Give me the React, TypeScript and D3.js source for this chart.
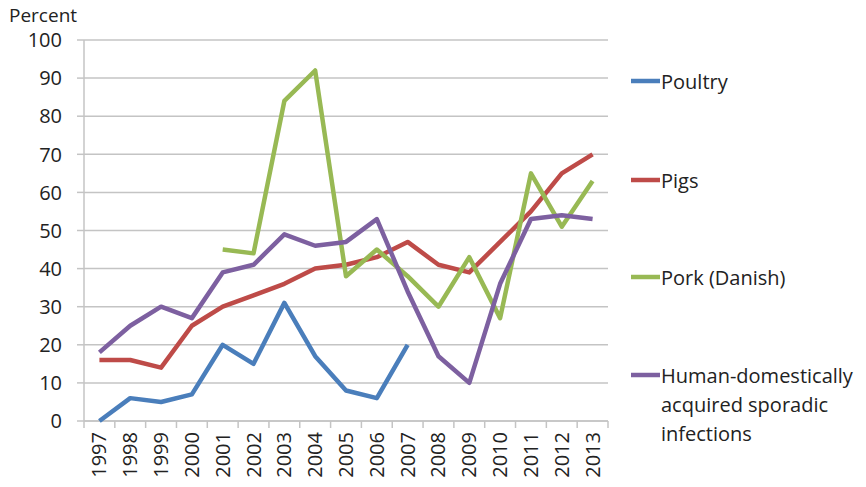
import React from "react";
import * as d3 from "d3";

const years = ["1997","1998","1999","2000","2001","2002","2003","2004","2005","2006","2007","2008","2009","2010","2011","2012","2013"];
const poultry: (number | null)[] = [0, 6, 5, 7, 20, 15, 31, 17, 8, 6, 20, null, null, null, null, null, null];
const pigs: (number | null)[] = [16, 16, 14, 25, 30, 33, 36, 40, 41, 43, 47, 41, 39, 47, 55, 65, 70];
const pork: (number | null)[] = [null, null, null, null, 45, 44, 84, 92, 38, 45, 38, 30, 43, 27, 65, 51, 63];
const human: (number | null)[] = [18, 25, 30, 27, 39, 41, 49, 46, 47, 53, 34, 17, 10, 36, 53, 54, 53];
const yTicks = [0, 10, 20, 30, 40, 50, 60, 70, 80, 90, 100];

const seriesNames = ["Poultry", "Pigs", "Pork (Danish)", "Human-domestically acquired sporadic infections"];
const seriesData = [poultry, pigs, pork, human];
const colors = ["#4A7EBB", "#BE4B48", "#98B954", "#7D60A0"];
const legendLines = [["Poultry"], ["Pigs"], ["Pork (Danish)"], ["Human-domestically", "acquired sporadic", "infections"]];

const W = 866, H = 487;
const left = 84, right = 608, top = 40, bottom = 421;
const font = "'Open Sans', sans-serif";

export default function App() {
  const x = d3.scaleBand().domain(years).range([left, right]).padding(0);
  const y = d3.scaleLinear().domain([0, 100]).range([bottom, top]);
  const line = d3
    .line<number | null>()
    .defined((d) => d != null)
    .x((_, i) => (x(years[i]) as number) + x.bandwidth() / 2)
    .y((d) => y(d as number));

  const legendY = [82, 181, 278, 376];

  return (
    <svg width={W} height={H} style={{ position: "absolute", left: 0, top: 0, background: "#fff" }} fontFamily={font}>
      <text x={9} y={22} fontSize={19} fill="#222">Percent</text>
      {yTicks.map((t) => (
        <g key={t}>
          <line x1={left} x2={right} y1={y(t)} y2={y(t)} stroke="#c4c4c4" strokeWidth={1.5} />
          <line x1={left - 7} x2={left} y1={y(t)} y2={y(t)} stroke="#c4c4c4" strokeWidth={1.5} />
          <text x={62} y={y(t)} dy="0.36em" textAnchor="end" fontSize={20} fill="#222">{t}</text>
        </g>
      ))}
      <line x1={left} x2={left} y1={top} y2={bottom} stroke="#c4c4c4" strokeWidth={1.5} />
      <line x1={left} x2={right} y1={bottom} y2={bottom} stroke="#c4c4c4" strokeWidth={1.5} />
      {years.map((yr) => (
        <line key={"t" + yr} x1={(x(yr) as number)} x2={(x(yr) as number)} y1={bottom} y2={bottom + 7} stroke="#c4c4c4" strokeWidth={1.5} />
      ))}
      <line x1={right} x2={right} y1={bottom} y2={bottom + 7} stroke="#c4c4c4" strokeWidth={1.5} />
      {years.map((yr) => {
        const cx = (x(yr) as number) + x.bandwidth() / 2;
        return (
          <text key={yr} transform={`translate(${cx + 7},${bottom + 11}) rotate(-90)`} textAnchor="end" fontSize={20} fill="#222">
            {yr}
          </text>
        );
      })}
      {seriesData.map((s, i) => (
        <path key={seriesNames[i]} d={line(s) || ""} fill="none" stroke={colors[i]} strokeWidth={4.5} strokeLinejoin="round" strokeLinecap="butt" />
      ))}
      {legendLines.map((ls, i) => (
        <g key={"lg" + i}>
          <line x1={631} x2={660} y1={legendY[i] - 1} y2={legendY[i] - 1} stroke={colors[i]} strokeWidth={4.5} />
          {ls.map((l, j) => (
            <text key={l} x={661} y={legendY[i] + 7 + j * 29} fontSize={20} fill="#222">{l}</text>
          ))}
        </g>
      ))}
    </svg>
  );
}
